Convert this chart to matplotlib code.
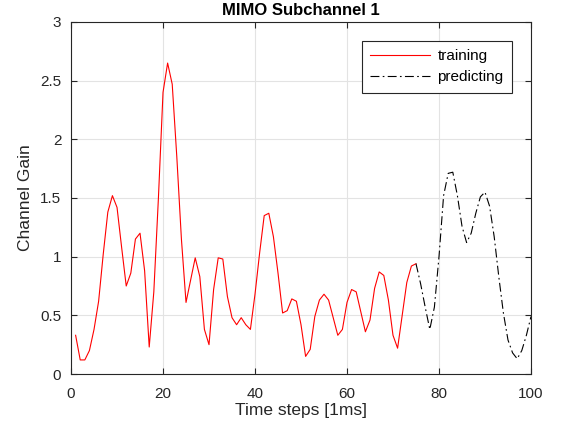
import numpy as np
import matplotlib
matplotlib.use("Agg")
import matplotlib.pyplot as plt

plt.rcParams['font.family'] = ['Liberation Sans', 'DejaVu Sans']

# training part, time steps 1..75
train_x = list(range(1, 76))
train_y = [0.33, 0.12, 0.12, 0.20, 0.38, 0.62, 1.02, 1.38, 1.52, 1.42,
           1.08, 0.75, 0.86, 1.15, 1.20, 0.88, 0.23, 0.70, 1.50, 2.40,
           2.65, 2.47, 1.85, 1.15, 0.61, 0.80, 0.99, 0.83, 0.38, 0.25,
           0.72, 0.99, 0.98, 0.66, 0.48, 0.42, 0.48, 0.42, 0.38, 0.68,
           1.03, 1.35, 1.37, 1.17, 0.86, 0.52, 0.54, 0.64, 0.62, 0.42,
           0.15, 0.21, 0.49, 0.63, 0.68, 0.63, 0.48, 0.33, 0.38, 0.61,
           0.72, 0.70, 0.53, 0.36, 0.46, 0.73, 0.87, 0.84, 0.63, 0.33,
           0.22, 0.50, 0.78, 0.92, 0.94]

# predicting part, time steps 75..100
pred_x = list(range(75, 101))
pred_y = [0.94, 0.77, 0.57, 0.38, 0.57, 1.00, 1.52, 1.71, 1.72, 1.52,
          1.26, 1.12, 1.20, 1.37, 1.51, 1.55, 1.43, 1.17, 0.83, 0.52,
          0.29, 0.18, 0.13, 0.20, 0.33, 0.49]

AX_COL = "#262626"

fig = plt.figure(figsize=(5.61, 4.38), dpi=100, facecolor="white")
ax = fig.add_axes([0.1266, 0.1461, 0.8199, 0.8037])

ax.plot(train_x, train_y, color="red", lw=0.8, label="training")
ax.plot(pred_x, pred_y, color="black", lw=0.8, linestyle=(0, (8, 3, 1.5, 3)),
        label="predicting")

ax.set_xlim(0, 100)
ax.set_ylim(0, 3)
ax.set_xticks([0, 20, 40, 60, 80, 100])
ax.set_yticks([0, 0.5, 1, 1.5, 2, 2.5, 3])
ax.set_yticklabels(["0", "0.5", "1", "1.5", "2", "2.5", "3"])

ax.grid(True, color="#e3e3e3", lw=0.8)
ax.set_axisbelow(True)
ax.tick_params(direction="in", top=True, right=True, length=4,
               colors=AX_COL, labelsize=11, width=0.8)
ax.tick_params(axis="x", pad=9)
ax.tick_params(axis="y", pad=7)
for sp in ax.spines.values():
    sp.set_color(AX_COL)
    sp.set_linewidth(0.8)

ax.set_xlabel("Time steps [1ms]", fontsize=12.5, color=AX_COL, labelpad=2)
ax.set_ylabel("Channel Gain", fontsize=12.5, color=AX_COL, labelpad=5)
ax.set_title("MIMO Subchannel 1", fontsize=12, fontweight="bold", pad=5)

leg = ax.legend(loc="upper right", bbox_to_anchor=(0.9587, 0.946), fontsize=11,
                frameon=True, fancybox=False, framealpha=1, edgecolor=AX_COL,
                handlelength=3.9, borderpad=0.55, labelspacing=0.45,
                handletextpad=0.5, borderaxespad=0)
leg.get_frame().set_linewidth(0.8)

fig.savefig("out.png", dpi=100, facecolor="white")
